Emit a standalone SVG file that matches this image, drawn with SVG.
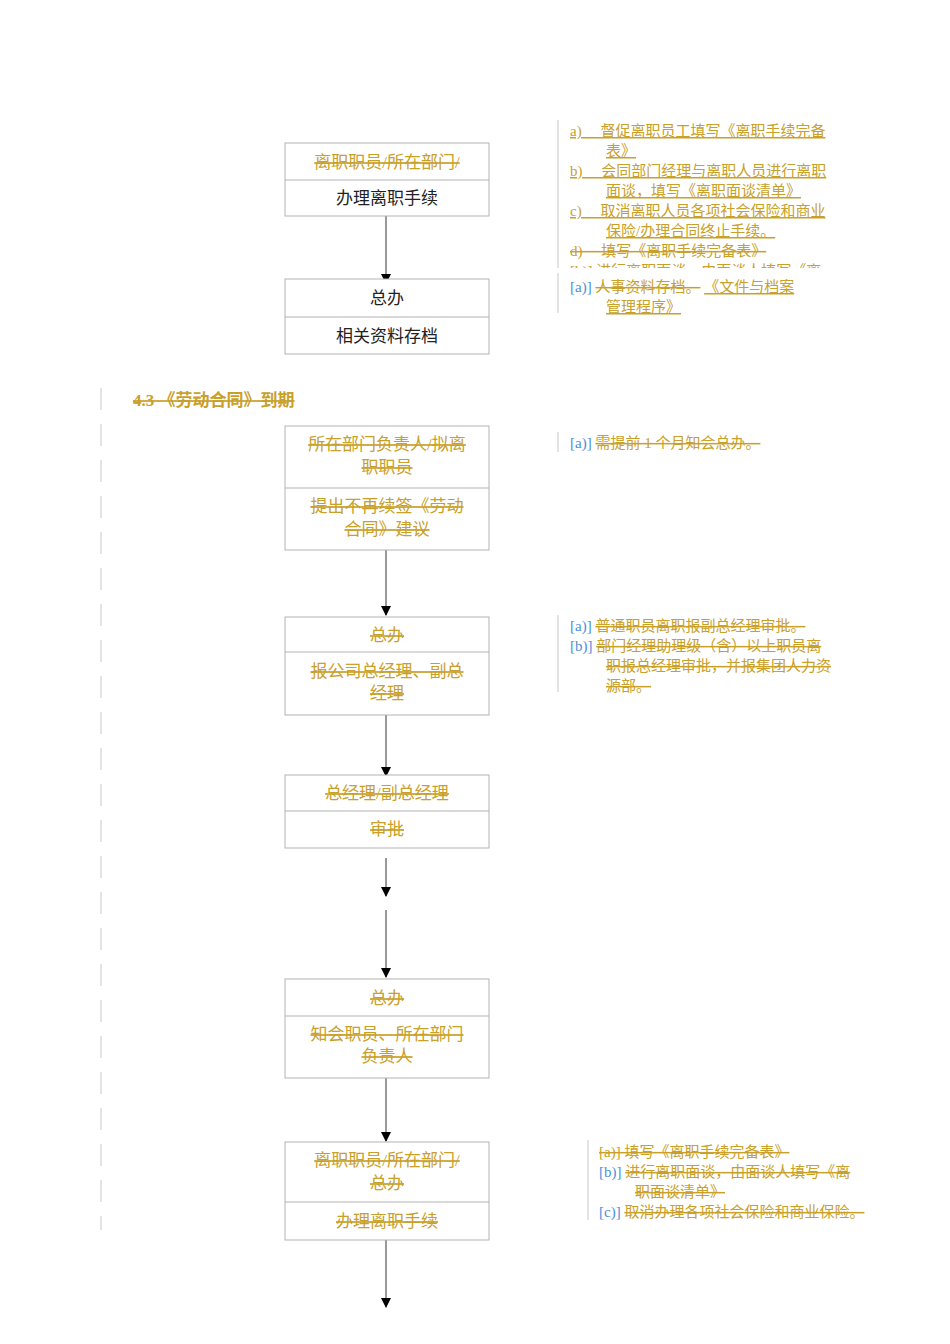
<svg xmlns="http://www.w3.org/2000/svg" width="950" height="1344" viewBox="0 0 950 1344">
<style>
text{font-family:"Liberation Serif","Noto Sans CJK SC",serif}
.b{fill:#fff;stroke:#b3b3b3;stroke-width:1}
.d{stroke:#b3b3b3;stroke-width:1}
.t{font-size:17px;text-anchor:middle;fill:#222}
.s{font-size:17px;text-anchor:middle;fill:#c8a02a;text-decoration:line-through}
.n{font-size:15px;fill:#c8a02a}
.u{text-decoration:underline}
.x{text-decoration:line-through}
.k{fill:#4a90d9;text-decoration:none}
.c{stroke:#333;stroke-width:1;fill:none}
.v{stroke:#c8c8c8;stroke-width:1}
</style>
<defs><marker id="a" markerWidth="10" markerHeight="10" refX="9" refY="5" orient="auto" markerUnits="userSpaceOnUse"><path d="M0,0L10,5L0,10z" fill="#000"/></marker>
<clipPath id="cl"><rect x="560" y="115" width="330" height="153"/></clipPath></defs>
<g id="connectors">
<line class="c" x1="386" y1="216" x2="386" y2="283" marker-end="url(#a)"/>
<line class="c" x1="386" y1="550" x2="386" y2="615" marker-end="url(#a)"/>
<line class="c" x1="386" y1="715" x2="386" y2="776" marker-end="url(#a)"/>
<line class="c" x1="386" y1="858" x2="386" y2="896" marker-end="url(#a)"/>
<line class="c" x1="386" y1="910" x2="386" y2="977" marker-end="url(#a)"/>
<line class="c" x1="386" y1="1078" x2="386" y2="1141" marker-end="url(#a)"/>
<line class="c" x1="386" y1="1240" x2="386" y2="1307" marker-end="url(#a)"/>
</g>
<line class="v" x1="101" y1="388" x2="101" y2="1230" stroke-dasharray="22,14"/>
<line class="v" x1="558" y1="120" x2="558" y2="268"/>
<line class="v" x1="558" y1="273" x2="558" y2="313"/>
<line class="v" x1="558" y1="432" x2="558" y2="452"/>
<line class="v" x1="558" y1="615" x2="558" y2="692"/>
<line class="v" x1="588" y1="1140" x2="588" y2="1220"/>
<g id="n1"><rect class="b" x="285" y="143" width="204" height="73"/><line class="d" x1="285" y1="180" x2="489" y2="180"/>
<text class="s" x="387" y="168">离职职员/所在部门/</text><text class="t" x="387" y="204">办理离职手续</text></g>
<g id="n2"><rect class="b" x="285" y="279" width="204" height="75"/><line class="d" x1="285" y1="317" x2="489" y2="317"/>
<text class="t" x="387" y="304">总办</text><text class="t" x="387" y="342">相关资料存档</text></g>
<g id="n3"><rect class="b" x="285" y="426" width="204" height="124"/><line class="d" x1="285" y1="488" x2="489" y2="488"/>
<text class="s" x="387" y="450">所在部门负责人/拟离</text><text class="s" x="387" y="473">职职员</text>
<text class="s" x="387" y="512">提出不再续签《劳动</text><text class="s" x="387" y="535">合同》建议</text></g>
<g id="n4"><rect class="b" x="285" y="617" width="204" height="98"/><line class="d" x1="285" y1="652" x2="489" y2="652"/>
<text class="s" x="387" y="641">总办</text><text class="s" x="387" y="677">报公司总经理、副总</text><text class="s" x="387" y="699">经理</text></g>
<g id="n5"><rect class="b" x="285" y="775" width="204" height="73"/><line class="d" x1="285" y1="811" x2="489" y2="811"/>
<text class="s" x="387" y="799">总经理/副总经理</text><text class="s" x="387" y="835">审批</text></g>
<g id="n6"><rect class="b" x="285" y="979" width="204" height="99"/><line class="d" x1="285" y1="1016" x2="489" y2="1016"/>
<text class="s" x="387" y="1004">总办</text><text class="s" x="387" y="1040">知会职员、所在部门</text><text class="s" x="387" y="1062">负责人</text></g>
<g id="n7"><rect class="b" x="285" y="1142" width="204" height="98"/><line class="d" x1="285" y1="1202" x2="489" y2="1202"/>
<text class="s" x="387" y="1166">离职职员/所在部门/</text><text class="s" x="387" y="1189">总办</text><text class="s" x="387" y="1227">办理离职手续</text></g>
<text x="133" y="406" font-size="17" font-weight="bold" fill="#c8a02a" style="text-decoration:line-through">4.3 《劳动合同》到期</text>
<g class="n" clip-path="url(#cl)">
<text class="u" x="570" y="136">a)　 督促离职员工填写《离职手续完备</text><text class="u" x="606" y="156">表》</text>
<text class="u" x="570" y="176">b)　 会同部门经理与离职人员进行离职</text><text class="u" x="606" y="196">面谈，填写《离职面谈清单》</text>
<text class="u" x="570" y="216">c)　 取消离职人员各项社会保险和商业</text><text class="u" x="606" y="236">保险/办理合同终止手续。</text>
<text class="x" x="570" y="256">d)　 填写《离职手续完备表》</text>
<text class="x" x="570" y="276">[b)] 进行离职面谈，由面谈人填写《离</text>
</g>
<g class="n">
<text x="570" y="292"><tspan class="k">[a)]</tspan> <tspan class="x">人事资料存档。</tspan> <tspan class="u">《文件与档案</tspan></text>
<text class="u" x="606" y="312">管理程序》</text>
<text x="570" y="448"><tspan class="k">[a)]</tspan> <tspan class="x">需提前 1 个月知会总办。</tspan></text>
<text x="570" y="631"><tspan class="k">[a)]</tspan> <tspan class="x">普通职员离职报副总经理审批。</tspan></text>
<text x="570" y="651"><tspan class="k">[b)]</tspan> <tspan class="x">部门经理助理级（含）以上职员离</tspan></text>
<text class="x" x="606" y="671">职报总经理审批，并报集团人力资</text>
<text class="x" x="606" y="691">源部。</text>
<text x="599" y="1157" class="x">[a)] 填写《离职手续完备表》</text>
<text x="599" y="1177"><tspan class="k">[b)]</tspan> <tspan class="x">进行离职面谈，由面谈人填写《离</tspan></text>
<text class="x" x="635" y="1197">职面谈清单》</text>
<text x="599" y="1217"><tspan class="k">[c)]</tspan> <tspan class="x">取消办理各项社会保险和商业保险。</tspan></text>
</g>
</svg>
